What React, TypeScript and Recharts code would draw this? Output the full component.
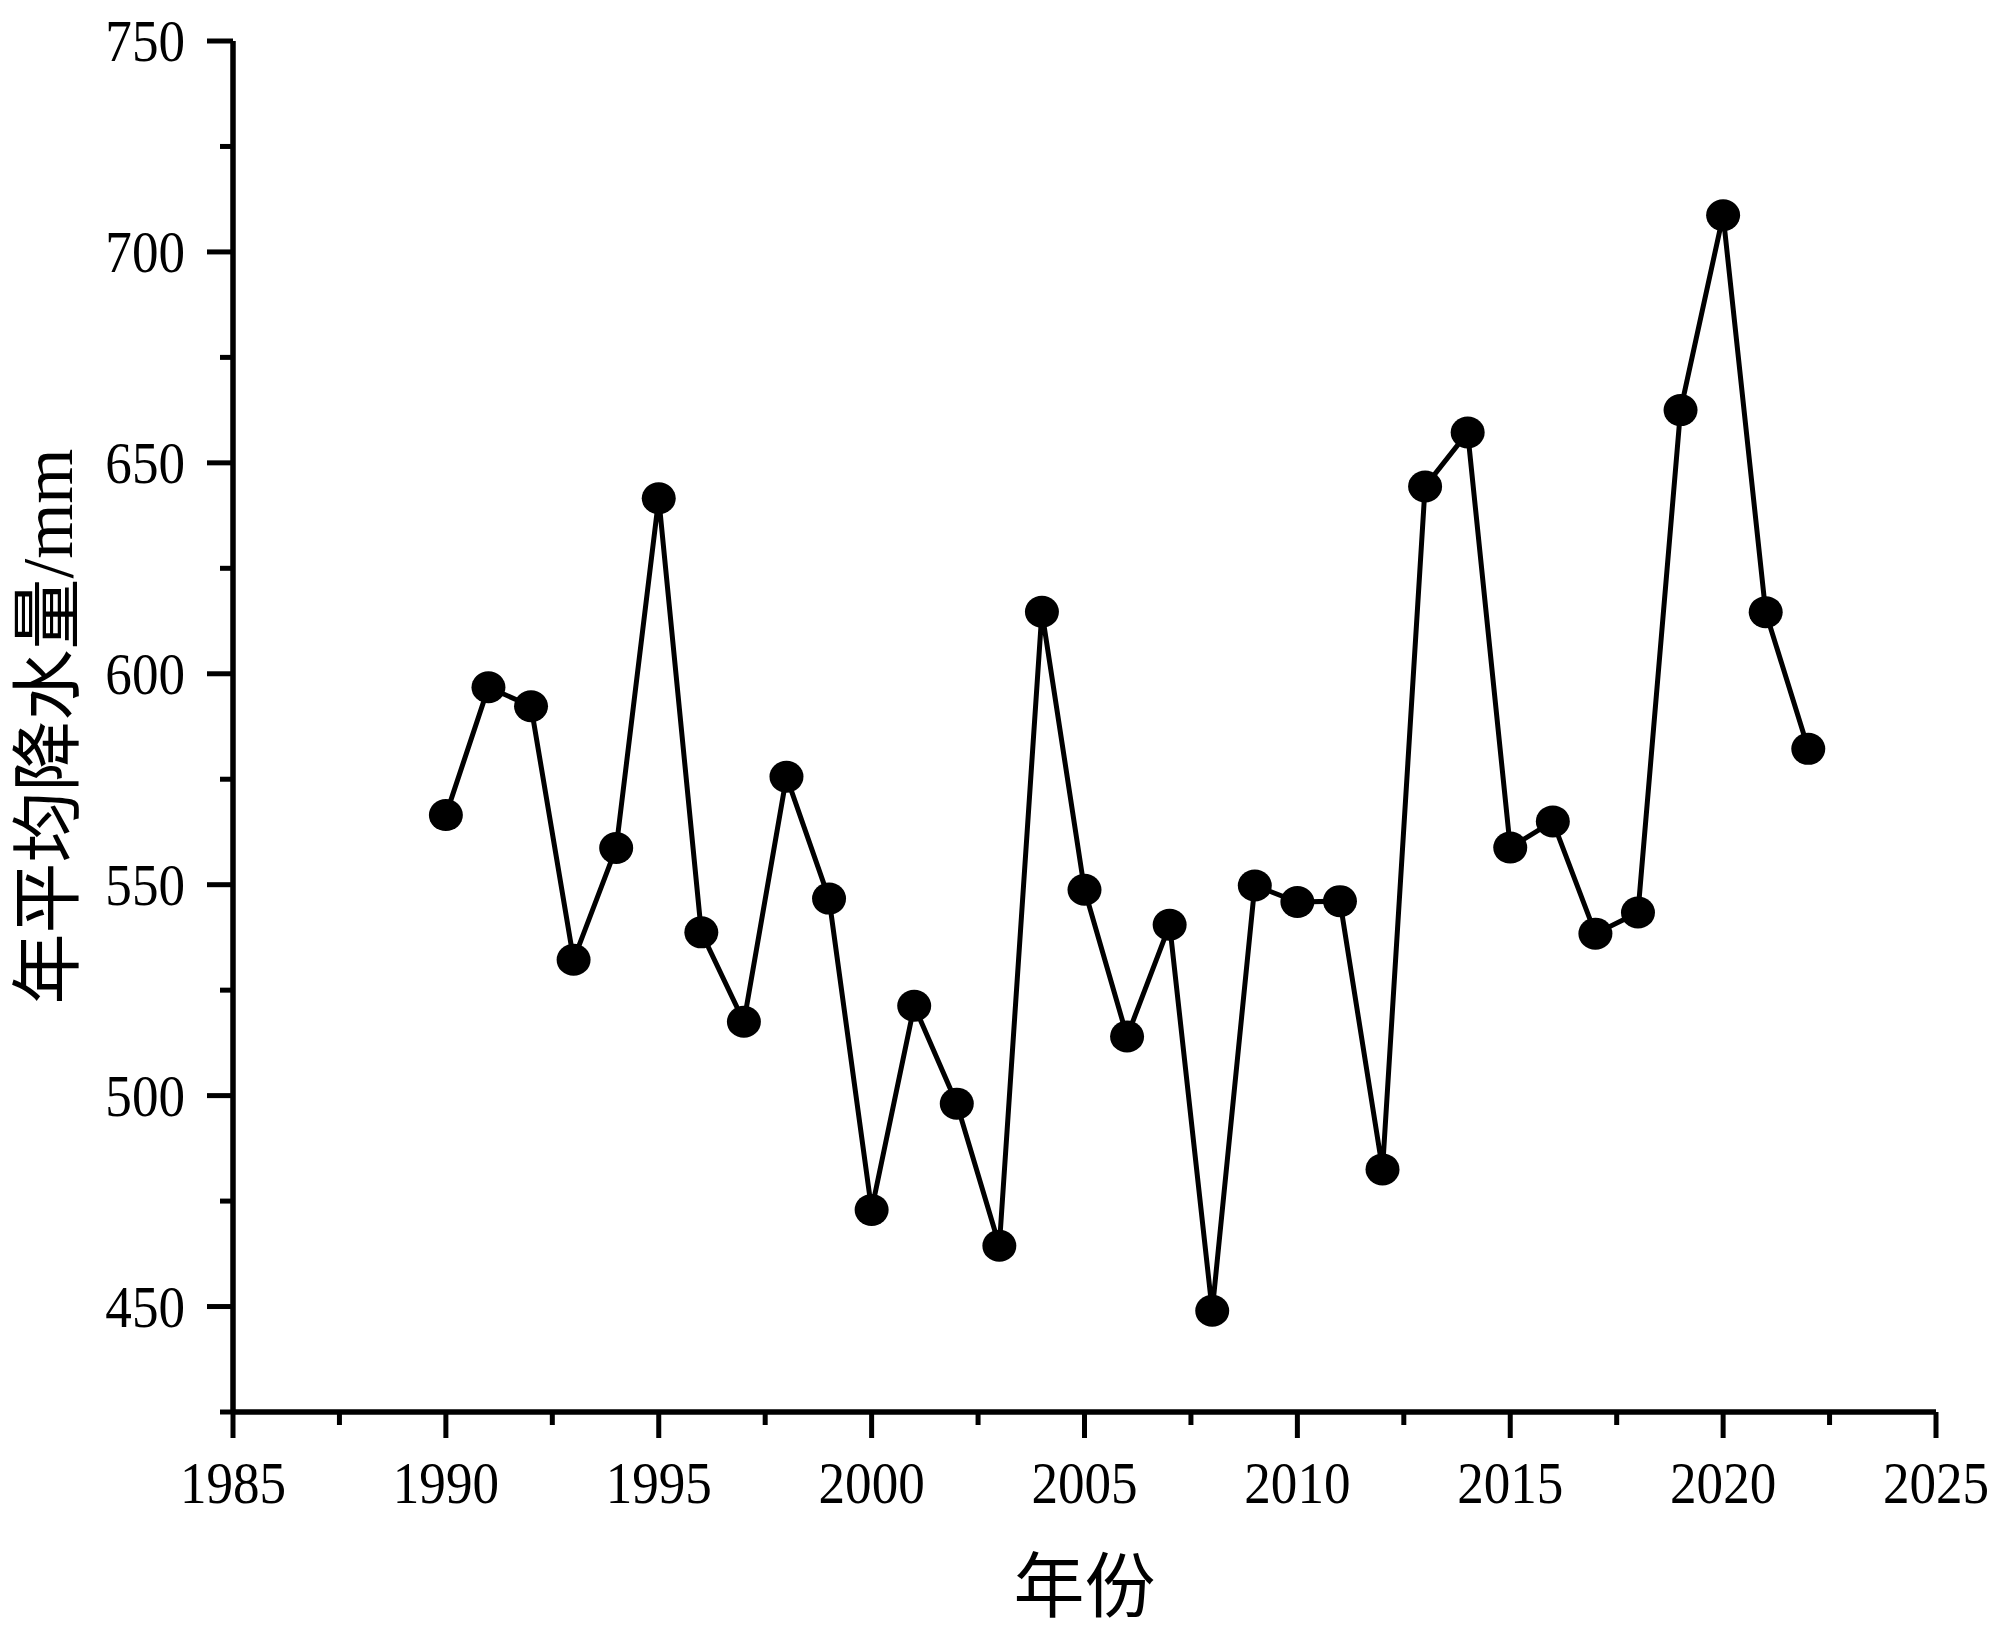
import React from 'react';
import { LineChart, Line, XAxis, YAxis } from 'recharts';

const years = [
  1990, 1991, 1992, 1993, 1994, 1995, 1996, 1997, 1998, 1999, 2000, 2001,
  2002, 2003, 2004, 2005, 2006, 2007, 2008, 2009, 2010, 2011, 2012, 2013,
  2014, 2015, 2016, 2017, 2018, 2019, 2020, 2021, 2022,
];
const precip = [
  566.5, 596.8, 592.3, 532.2, 558.7, 641.6, 538.7, 517.5, 575.6, 546.7, 472.9, 521.3,
  498.1, 464.4, 614.7, 548.8, 514.0, 540.5, 449.0, 549.8, 545.9, 546.1, 482.5, 644.4,
  657.2, 558.8, 565.0, 538.4, 543.4, 662.5, 708.7, 614.6, 582.2,
];
const xTicks = [
  1985, 1987.5, 1990, 1992.5, 1995, 1997.5, 2000, 2002.5, 2005, 2007.5, 2010,
  2012.5, 2015, 2017.5, 2020, 2022.5, 2025,
];
const yTicks = [425, 450, 475, 500, 525, 550, 575, 600, 625, 650, 675, 700, 725, 750];
const xMajor = [1985, 1990, 1995, 2000, 2005, 2010, 2015, 2020, 2025];
const yMajor = [450, 500, 550, 600, 650, 700, 750];

const data = years.map((year, i) => ({ year, value: precip[i] }));

const serif = "'Liberation Serif', 'Times New Roman', serif";
const cjk = "'Liberation Serif', 'Noto Sans CJK SC', serif";

// narrow-ish Times digits like the original
const Num = ({ x, y, anchor, children }: any) => (
  <text
    transform={`translate(${x} ${y}) scale(0.9 1)`}
    textAnchor={anchor}
    fontSize={59}
    fontFamily={serif}
    fill="#000"
  >
    {children}
  </text>
);

const XTick = (props: any) => {
  const { x, y, payload } = props;
  const major = xMajor.includes(payload.value);
  return (
    <g>
      <line x1={x} y1={y} x2={x} y2={y + (major ? 26 : 13)} stroke="#000" strokeWidth={5} />
      {major && <Num x={x} y={y + 91} anchor="middle">{payload.value}</Num>}
    </g>
  );
};

const YTick = (props: any) => {
  const { x, y, payload } = props;
  const major = yMajor.includes(payload.value);
  return (
    <g>
      <line x1={x} y1={y} x2={x - (major ? 26 : 13)} y2={y} stroke="#000" strokeWidth={5} />
      {major && <Num x={x - 48} y={y + 20} anchor="end">{payload.value}</Num>}
    </g>
  );
};

const Dot = (props: any) => {
  const { cx, cy, index } = props;
  return <ellipse key={`dot-${index}`} cx={cx} cy={cy} rx={17} ry={16} fill="#000" />;
};

export default function App() {
  return (
    <div style={{ position: 'absolute', left: 0, top: 0, background: '#fff' }}>
      <LineChart
        width={2000}
        height={1627}
        data={data}
        margin={{ top: 41, right: 64, bottom: 0, left: 0 }}
      >
        <XAxis
          dataKey="year"
          type="number"
          domain={[1985, 2025]}
          ticks={xTicks}
          interval={0}
          height={215}
          tickSize={0}
          tickMargin={0}
          tickLine={false}
          axisLine={{ stroke: '#000', strokeWidth: 5.5 }}
          tick={<XTick />}
          label={{
            content: (p: any) => {
              const vb = p.viewBox;
              return (
                <text x={vb.x + vb.width / 2} y={vb.y + 199} textAnchor="middle" fontSize={71} fontFamily={cjk} fill="#000">
                  年份
                </text>
              );
            },
          }}
        />
        <YAxis
          type="number"
          domain={[425, 750]}
          ticks={yTicks}
          interval={0}
          width={233}
          tickSize={0}
          tickMargin={0}
          tickLine={false}
          axisLine={{ stroke: '#000', strokeWidth: 5.5 }}
          tick={<YTick />}
          label={{
            content: (p: any) => {
              const vb = p.viewBox;
              const cx = vb.x + 72;
              const cy = vb.y + vb.height / 2;
              return (
                <text
                  x={cx}
                  y={cy}
                  transform={`rotate(-90 ${cx} ${cy})`}
                  textAnchor="middle"
                  fontSize={71}
                  fontFamily={cjk}
                  fill="#000"
                >
                  年平均降水量/mm
                </text>
              );
            },
          }}
        />
        <Line
          type="linear"
          dataKey="value"
          stroke="#000"
          strokeWidth={5}
          dot={<Dot />}
          activeDot={false}
          isAnimationActive={false}
        />
      </LineChart>
    </div>
  );
}
